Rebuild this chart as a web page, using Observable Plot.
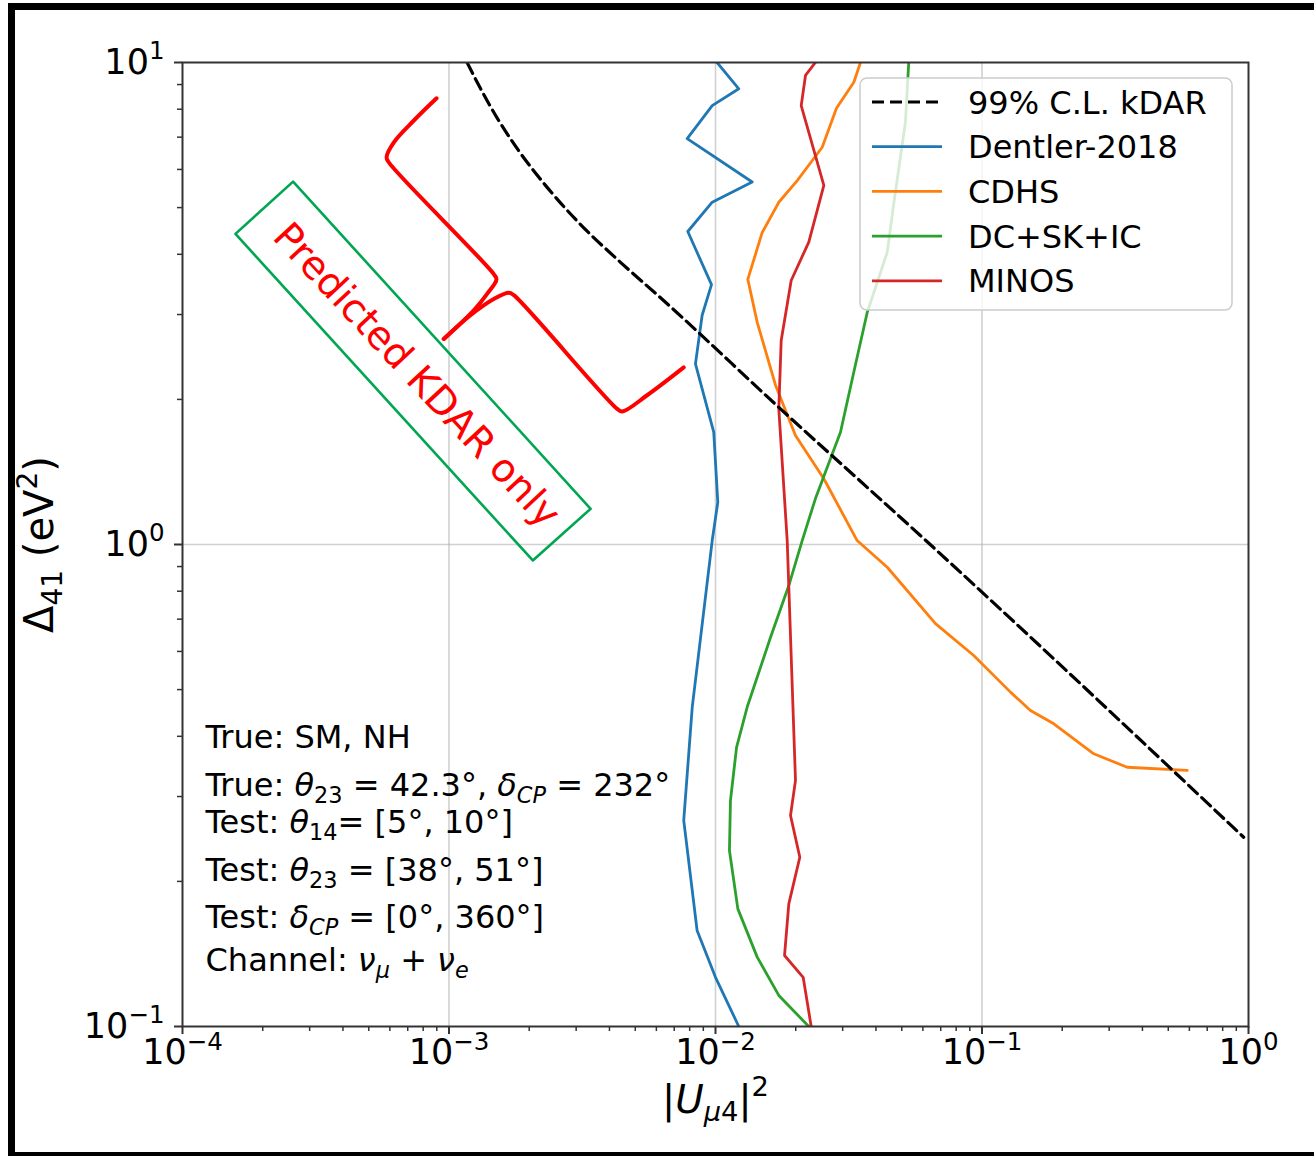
<!DOCTYPE html>
<html><head><meta charset="utf-8">
<script src="https://cdn.jsdelivr.net/npm/d3@7"></script>
<script src="https://cdn.jsdelivr.net/npm/@observablehq/plot@0.6"></script>
<style>
html,body{margin:0;padding:0;background:#fff;}
#chart svg{display:block;}
</style>
</head><body><div id="chart"></div>
<script>
// ---------- data (|U_mu4|^2 , Delta m^2_41 in eV^2) ----------
const kdarU  = [1.169e-3, 1.313e-3, 1.521e-3, 1.823e-3, 2.302e-3, 3.06e-3, 4.40e-3, 6.22e-3, 0.01754, 0.0587, 0.959];
const kdarDm = [10, 8.83, 7.65, 6.57, 5.56, 4.66, 3.85, 3.25, 1.911, 1.044, 0.247];

const dentlerU  = [0.01014, 0.01223, 0.00972, 0.00783, 0.01373, 0.00972, 0.00787, 0.00966, 0.00891, 0.00841, 0.00985, 0.0102, 0.00972, 0.00818, 0.0076, 0.00853, 0.0100, 0.01223];
const dentlerDm = [10, 8.82, 8.14, 6.95, 5.65, 5.13, 4.46, 3.46, 2.99, 2.37, 1.71, 1.224, 1.019, 0.46, 0.2676, 0.1582, 0.1265, 0.1];

const cdhsU  = [0.035, 0.03304, 0.02844, 0.02514, 0.02026, 0.01728, 0.01497, 0.01322, 0.01434, 0.0168, 0.01996, 0.0255, 0.034, 0.0441, 0.0669, 0.0931, 0.1279, 0.152, 0.186, 0.2627, 0.3506, 0.589];
const cdhsDm = [10, 9.10, 8.04, 6.67, 5.69, 5.13, 4.44, 3.55, 2.89, 2.14, 1.683, 1.369, 1.019, 0.897, 0.685, 0.5885, 0.494, 0.4525, 0.4246, 0.368, 0.345, 0.34];

const dcskicU  = [0.0531, 0.0516, 0.04656, 0.0441, 0.03709, 0.03304, 0.02944, 0.027, 0.0237, 0.02115, 0.01884, 0.01609, 0.01315, 0.012, 0.01138, 0.01128, 0.01213, 0.01434, 0.01728, 0.02239];
const dcskicDm = [10, 7.52, 5.05, 4.04, 3.03, 2.28, 1.71, 1.506, 1.244, 1.019, 0.822, 0.642, 0.46, 0.38, 0.2944, 0.2318, 0.1754, 0.1393, 0.116, 0.1];

const minosU  = [0.0237, 0.02176, 0.02097, 0.0255, 0.02239, 0.01923, 0.01764, 0.01728, 0.01858, 0.01996, 0.01912, 0.02072, 0.01884, 0.01816, 0.02133, 0.02286];
const minosDm = [10, 9.40, 8.14, 5.56, 4.24, 3.53, 2.65, 1.911, 1.019, 0.324, 0.274, 0.2245, 0.1797, 0.1404, 0.1265, 0.1];

const seriesNames = ["99% C.L. kDAR", "Dentler-2018", "CDHS", "DC+SK+IC", "MINOS"];

const xTicks = [1e-4, 1e-3, 1e-2, 1e-1, 1];
const xTickLabels = ["10^{−4}", "10^{−3}", "10^{−2}", "10^{−1}", "10^{0}"];
const yTicks = [0.1, 1, 10];
const yTickLabels = ["10^{−1}", "10^{0}", "10^{1}"];

// annotation: hand-drawn bracket and boxed label (in data units)
const bracketAU  = [8.98e-4, 7.38e-4, 6.21e-4, 5.83e-4, 5.94e-4, 1.472e-3, 1.507e-3, 1.39e-3, 1.239e-3, 9.56e-4];
const bracketADm = [8.43, 7.58, 6.83, 6.36, 6.21, 3.64, 3.55, 3.31, 3.06, 2.67];
const bracketBU  = [9.56e-4, 1.204e-3, 1.472e-3, 1.677e-3, 1.751e-3, 4.28e-3, 4.47e-3, 5.54e-3, 7.60e-3];
const bracketBDm = [2.67, 2.99, 3.23, 3.33, 3.29, 1.911, 1.888, 2.04, 2.33];
const boxU  = [2.60e-4, 1.58e-4, 2.063e-3, 3.40e-3, 2.60e-4];
const boxDm = [5.66, 4.41, 0.9265, 1.186, 5.66];
const boxLabel = "Predicted KDAR only";

const infoLines = [
  "True: SM, NH",
  "True: ~θ~_{23} = 42.3°, ~δ~_{~CP~} = 232°",
  "Test: ~θ~_{14}= [5°, 10°]",
  "Test: ~θ~_{23} = [38°, 51°]",
  "Test: ~δ~_{~CP~} = [0°, 360°]",
  "Channel: ~ν~_{~μ~} + ~ν~_{~e~}"
];
const xLabel = "|~U~_{~μ~4}|^{2}";
const yLabel = "Δ_{41} (eV^{2})";

// ---------- build tables ----------
const zip = (xs, ys) => xs.map((u, i) => ({u, dm: ys[i]}));
const colors = ["#000000", "#1f77b4", "#ff7f0e", "#2ca02c", "#d62728"];
const curves = [zip(dentlerU, dentlerDm), zip(cdhsU, cdhsDm), zip(dcskicU, dcskicDm), zip(minosU, minosDm)];
const infoPos = [0.3977, 0.316, 0.2644, 0.2108, 0.168, 0.1371];
const infoData = infoLines.map((t, i) => ({u: 1.22e-4, dm: infoPos[i], t}));

const minors = (lo, hi) => { const a = []; for (let d = lo; d < hi; d *= 10) for (let k = 2; k <= 9; k++) a.push(d * k); return a; };

const W = 1314, H = 1156, mL = 182, mR = 66, mT = 62, mB = 130;

const plot = Plot.plot({
  width: W, height: H,
  marginLeft: mL, marginRight: mR, marginTop: mT, marginBottom: mB,
  style: {fontFamily: "DejaVu Sans", fontSize: "32px", background: "white", color: "black", overflow: "visible"},
  x: {type: "log", domain: [1e-4, 1]},
  y: {type: "log", domain: [0.1, 10]},
  marks: [
    Plot.gridX([1e-3, 1e-2, 1e-1], {stroke: "#b0b0b0", strokeOpacity: 0.6, strokeWidth: 1.6}),
    Plot.gridY([1], {stroke: "#b0b0b0", strokeOpacity: 0.6, strokeWidth: 1.6}),
    Plot.axisX({ticks: minors(1e-4, 1), tickSize: 5, tickFormat: () => "", stroke: "#333", strokeWidth: 1.5, label: null}),
    Plot.axisY({ticks: minors(0.1, 10), tickSize: 5, tickFormat: () => "", stroke: "#333", strokeWidth: 1.5, label: null}),
    Plot.axisX({ticks: xTicks, tickSize: 8, tickPadding: 5, tickFormat: (d) => xTickLabels[xTicks.indexOf(d)], fontSize: 35, stroke: "#333", strokeWidth: 2, label: null}),
    Plot.axisY({ticks: yTicks, tickSize: 8, tickPadding: 10, tickFormat: (d) => yTickLabels[yTicks.indexOf(d)], fontSize: 35, stroke: "#333", strokeWidth: 2, label: null}),
    ...curves.map((c, i) => Plot.line(c, {x: "u", y: "dm", stroke: colors[i + 1], strokeWidth: 2.8, clip: true})),
    Plot.line(zip(kdarU, kdarDm), {x: "u", y: "dm", stroke: "black", strokeWidth: 3.2, strokeDasharray: "12,6", curve: "monotone-x", clip: true}),
    Plot.line(zip(bracketAU, bracketADm), {x: "u", y: "dm", stroke: "#ff0000", strokeWidth: 4, curve: "catmull-rom"}),
    Plot.line(zip(bracketBU, bracketBDm), {x: "u", y: "dm", stroke: "#ff0000", strokeWidth: 4, curve: "catmull-rom"}),
    Plot.line(zip(boxU, boxDm), {x: "u", y: "dm", stroke: "#00a651", strokeWidth: 2.6}),
    Plot.text([{u: 7.55e-4, dm: 2.242, t: boxLabel}], {x: "u", y: "dm", text: "t", rotate: 47, fill: "#ff0000", fontSize: 39}),
    Plot.text(infoData, {x: "u", y: "dm", text: "t", textAnchor: "start", fontSize: 32, fill: "black"}),
    Plot.text([xLabel], {frameAnchor: "bottom", dy: 86, textAnchor: "middle", fontSize: 39, fill: "black"}),
    Plot.text([yLabel], {frameAnchor: "left", dx: -142, rotate: -90, textAnchor: "middle", fontSize: 40, fill: "black"}),
    Plot.frame({stroke: "#333", strokeWidth: 2})
  ]
});

document.getElementById("chart").appendChild(plot);

// ---------- mathtext-like rendering of sub/superscripts & italics ----------
function mathify(el) {
  const src = el.textContent;
  if (!/[_^]\{|~/.test(src)) return;
  const fs = parseFloat(getComputedStyle(el).fontSize) || 32;
  const segs = [];
  let cur = {t: "", it: false, sc: null};
  const push = () => { if (cur.t) segs.push(cur); cur = {t: "", it: cur.it, sc: cur.sc}; };
  for (let i = 0; i < src.length; i++) {
    const c = src[i];
    if ((c === "_" || c === "^") && src[i + 1] === "{") { push(); cur.sc = c === "_" ? "sub" : "sup"; i++; continue; }
    if (c === "}" && cur.sc) { push(); cur.sc = null; continue; }
    if (c === "~") { push(); cur.it = !cur.it; continue; }
    cur.t += c;
  }
  push();
  while (el.firstChild) el.removeChild(el.firstChild);
  let shift = 0;
  for (const s of segs) {
    const ts = document.createElementNS("http://www.w3.org/2000/svg", "tspan");
    const target = s.sc === "sub" ? 0.22 * fs : s.sc === "sup" ? -0.42 * fs : 0;
    if (target !== shift) { ts.setAttribute("dy", target - shift); shift = target; }
    if (s.sc) ts.setAttribute("font-size", 0.7 * fs);
    if (s.it) ts.setAttribute("font-style", "italic");
    ts.textContent = s.t;
    el.appendChild(ts);
  }
}
plot.querySelectorAll("text").forEach(mathify);

// ---------- legend inside the axes (upper right) ----------
const svg = d3.select(plot);
const lgW = 372, lgH = 232, rowH = 44.7;
const lg = svg.append("g").attr("transform", `translate(${W - mR - 16 - lgW},${mT + 16})`);
lg.append("rect").attr("width", lgW).attr("height", lgH).attr("rx", 7)
  .attr("fill", "white").attr("fill-opacity", 0.8).attr("stroke", "#cccccc").attr("stroke-width", 1.5);
seriesNames.forEach((name, i) => {
  const cy = 24 + i * rowH;
  lg.append("line").attr("x1", 12).attr("x2", 82).attr("y1", cy).attr("y2", cy)
    .attr("stroke", colors[i]).attr("stroke-width", i === 0 ? 3.2 : 2.8)
    .attr("stroke-dasharray", i === 0 ? "12,6" : null);
  lg.append("text").attr("x", 108).attr("y", cy).attr("dy", "0.36em")
    .attr("text-anchor", "start")
    .attr("font-family", "DejaVu Sans").attr("font-size", 32).attr("fill", "black").text(name);
});

// ---------- outer picture border ----------
const border = svg.append("g").attr("fill", "black");
border.append("rect").attr("x", 8).attr("y", 3).attr("width", W - 8).attr("height", 7);
border.append("rect").attr("x", 8).attr("y", 3).attr("width", 7).attr("height", H - 3);
border.append("rect").attr("x", 8).attr("y", H - 4).attr("width", W - 8).attr("height", 4);
</script>
</body></html>
